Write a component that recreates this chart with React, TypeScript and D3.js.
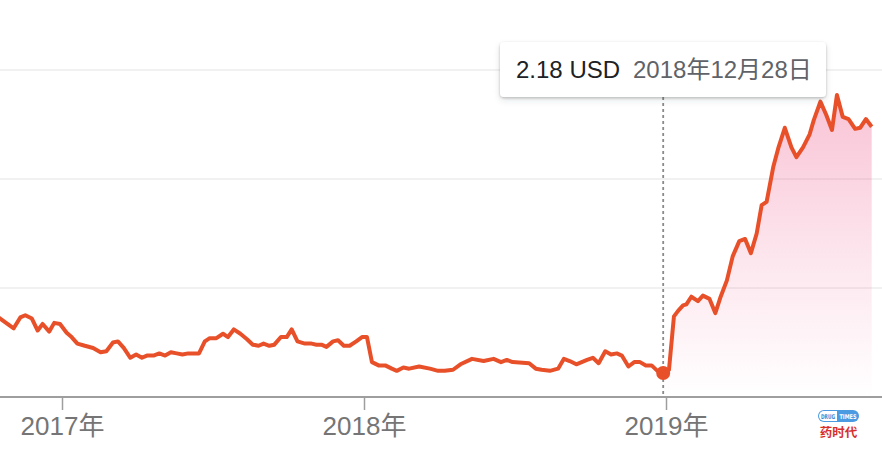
import React from "react";
import * as d3 from "d3";

const dates: string[] = [
  "2016-10-14","2016-11-03","2016-11-11","2016-11-17","2016-11-25","2016-12-02","2016-12-08","2016-12-16","2016-12-22","2016-12-29",
  "2017-01-06","2017-01-12","2017-01-19","2017-01-28","2017-02-07","2017-02-16","2017-02-23","2017-03-03","2017-03-09","2017-03-16",
  "2017-03-24","2017-03-31","2017-04-07","2017-04-13","2017-04-21","2017-04-28","2017-05-05","2017-05-12","2017-05-19","2017-05-26",
  "2017-06-02","2017-06-09","2017-06-15","2017-06-22","2017-06-28","2017-07-06","2017-07-14","2017-07-20","2017-07-27","2017-08-04",
  "2017-08-12","2017-08-19","2017-08-26","2017-09-01","2017-09-08","2017-09-14","2017-09-22","2017-09-29","2017-10-05","2017-10-12",
  "2017-10-21","2017-10-29","2017-11-04","2017-11-10","2017-11-16","2017-11-24","2017-11-30","2017-12-07","2017-12-14","2017-12-22",
  "2017-12-29","2018-01-04","2018-01-10","2018-01-18","2018-01-26","2018-02-03","2018-02-09","2018-02-17","2018-02-24","2018-03-08",
  "2018-03-21","2018-03-31","2018-04-08","2018-04-18","2018-04-27","2018-05-11","2018-05-25","2018-06-06","2018-06-15","2018-06-22",
  "2018-06-29","2018-07-19","2018-07-27","2018-08-03","2018-08-13","2018-08-23","2018-08-30","2018-09-06","2018-09-14","2018-09-27",
  "2018-10-04","2018-10-11","2018-10-19","2018-10-26","2018-11-02","2018-11-08","2018-11-16","2018-11-23","2018-11-30","2018-12-07",
  "2018-12-14","2018-12-21","2018-12-28",
  "2019-01-04","2019-01-10","2019-01-15","2019-01-21","2019-01-25","2019-01-31","2019-02-08","2019-02-14","2019-02-22","2019-03-01",
  "2019-03-07","2019-03-15","2019-03-22","2019-03-30","2019-04-06","2019-04-13","2019-04-20","2019-04-26","2019-05-02","2019-05-10",
  "2019-05-16","2019-05-24","2019-06-01","2019-06-07","2019-06-15","2019-06-23","2019-06-28","2019-07-06","2019-07-13","2019-07-20",
  "2019-07-26","2019-08-02","2019-08-09","2019-08-17","2019-08-23","2019-08-30","2019-09-06",
];

const prices: number[] = [
  2.74, 2.63, 2.73, 2.75, 2.72, 2.61, 2.67, 2.60, 2.68, 2.67,
  2.59, 2.55, 2.49, 2.47, 2.45, 2.41, 2.42, 2.50, 2.51, 2.45,
  2.36, 2.39, 2.36, 2.38, 2.38, 2.40, 2.38, 2.41, 2.40, 2.39,
  2.40, 2.40, 2.40, 2.51, 2.54, 2.54, 2.58, 2.55, 2.62, 2.58,
  2.53, 2.48, 2.47, 2.49, 2.47, 2.48, 2.55, 2.55, 2.62, 2.51,
  2.49, 2.49, 2.48, 2.48, 2.46, 2.51, 2.52, 2.47, 2.47, 2.51,
  2.55, 2.55, 2.32, 2.29, 2.29, 2.26, 2.24, 2.27, 2.26, 2.28,
  2.26, 2.24, 2.24, 2.25, 2.30, 2.35, 2.33, 2.35, 2.32, 2.34,
  2.32, 2.31, 2.26, 2.25, 2.24, 2.26, 2.35, 2.33, 2.30, 2.34,
  2.36, 2.31, 2.42, 2.39, 2.40, 2.38, 2.28, 2.32, 2.32, 2.29,
  2.29, 2.24, 2.22,
  2.25, 2.74, 2.79, 2.84, 2.85, 2.92, 2.88, 2.93, 2.90, 2.77,
  2.91, 3.07, 3.29, 3.43, 3.45, 3.32, 3.50, 3.76, 3.79, 4.11,
  4.28, 4.47, 4.29, 4.20, 4.29, 4.41, 4.54, 4.71, 4.59, 4.45,
  4.77, 4.57, 4.55, 4.46, 4.47, 4.55, 4.48,
];

const gridValues: number[] = [3, 4, 5];
const tickYears: string[] = ["2017-01-01", "2018-01-01", "2019-01-01"];
const tickLabels: string[] = ["2017年", "2018年", "2019年"];
const hoverDate = "2018-12-28";
const hoverPriceLabel = "2.18 USD";

const W = 882;
const H = 450;
const FONT = "'Liberation Sans', Arial, 'Noto Sans CJK SC', sans-serif";
const LINE = "#e8502a";
const LOGO_FONT = "'Liberation Sans Narrow', 'DejaVu Sans Condensed', sans-serif";

export default function App() {
  const parse = d3.utcParse("%Y-%m-%d");
  const data = dates.map((d, i) => ({ date: parse(d) as Date, value: prices[i] }));
  const x = d3
    .scaleUtc()
    .domain([parse("2017-01-01") as Date, parse("2019-01-01") as Date])
    .range([62.5, 666.5]);
  const y = d3.scaleLinear().domain([2, 5]).range([397, 70]);
  const axisY = y(2);

  const line = d3
    .line<{ date: Date; value: number }>()
    .x((d) => x(d.date))
    .y((d) => y(d.value))
    .curve(d3.curveLinear);

  const hoverIdx = dates.indexOf(hoverDate);
  const hover = data[hoverIdx];
  const area = d3
    .area<{ date: Date; value: number }>()
    .x((d) => x(d.date))
    .y0(axisY)
    .y1((d) => y(d.value));
  const areaData = data.slice(hoverIdx);
  const hx = x(hover.date);
  const hy = y(hover.value);
  const dateLabel = d3.utcFormat("%Y年%m月%d日")(hover.date);

  return (
    <svg
      width={W}
      height={H}
      style={{ position: "absolute", left: 0, top: 0, background: "#fff" }}
      fontFamily={FONT}
    >
      <defs>
        <linearGradient id="fillGrad" gradientUnits="userSpaceOnUse" x1="0" y1={y(4.8)} x2="0" y2={axisY}>
          <stop offset="0" stopColor="#e91e63" stopOpacity={0.27} />
          <stop offset="0.55" stopColor="#e91e63" stopOpacity={0.11} />
          <stop offset="1" stopColor="#e91e63" stopOpacity={0} />
        </linearGradient>
        <filter id="shadow" x="-10%" y="-30%" width="120%" height="180%">
          <feDropShadow dx="0" dy="1" stdDeviation="1.2" floodColor="#3c4043" floodOpacity="0.3" />
          <feDropShadow dx="0" dy="3" stdDeviation="3" floodColor="#3c4043" floodOpacity="0.12" />
        </filter>
      </defs>

      {gridValues.map((v) => (
        <line key={v} x1={0} x2={W} y1={y(v)} y2={y(v)} stroke="#ececec" strokeWidth={1.5} />
      ))}

      <path d={area(areaData) || ""} fill="url(#fillGrad)" />

      <line x1={0} x2={W} y1={axisY} y2={axisY} stroke="#9e9e9e" strokeWidth={2} />
      {tickYears.map((t, i) => {
        const tx = x(parse(t) as Date);
        return (
          <g key={t}>
            <line x1={tx} x2={tx} y1={axisY} y2={axisY + 13} stroke="#9e9e9e" strokeWidth={1.5} />
            <text x={tx} y={435} textAnchor="middle" fontSize={26} fill="#757575">
              {tickLabels[i]}
            </text>
          </g>
        );
      })}

      <line x1={hx} x2={hx} y1={97} y2={axisY} stroke="#8a8a8a" strokeWidth={1.8} strokeDasharray="3,3" />

      <path d={line(data) || ""} fill="none" stroke={LINE} strokeWidth={4} strokeLinejoin="round" />
      <circle cx={hx} cy={hy} r={7} fill={LINE} />

      <g filter="url(#shadow)">
        <rect x={500} y={42} width={326} height={55} rx={4} fill="#fff" />
      </g>
      <text x={516} y={78} fontSize={24} fill="#202124">
        {hoverPriceLabel}
      </text>
      <text x={633} y={78} fontSize={24} fill="#5f6368">
        {dateLabel}
      </text>

      <g>
        <rect x={818} y={410} width={41} height={12} rx={6} fill="#4a9be2" />
        <path d="M 824 411 H 837 V 421 H 824 A 5 5 0 0 1 824 411 Z" fill="#fff" />
        <text x={821} y={418.5} fontSize={6.5} fontWeight="bold" fill="#3a8ad6" fontFamily={LOGO_FONT} textLength={14} lengthAdjust="spacingAndGlyphs">
          DRUG
        </text>
        <text x={839.5} y={418.5} fontSize={6.5} fontWeight="bold" fill="#fff" fontFamily={LOGO_FONT} textLength={17} lengthAdjust="spacingAndGlyphs">
          TIMES
        </text>
        <text x={838.5} y={437} textAnchor="middle" fontSize={12.5} fontWeight="bold" fill="#d6302a" fontFamily="'Noto Sans CJK SC', sans-serif">
          药时代
        </text>
      </g>
    </svg>
  );
}
